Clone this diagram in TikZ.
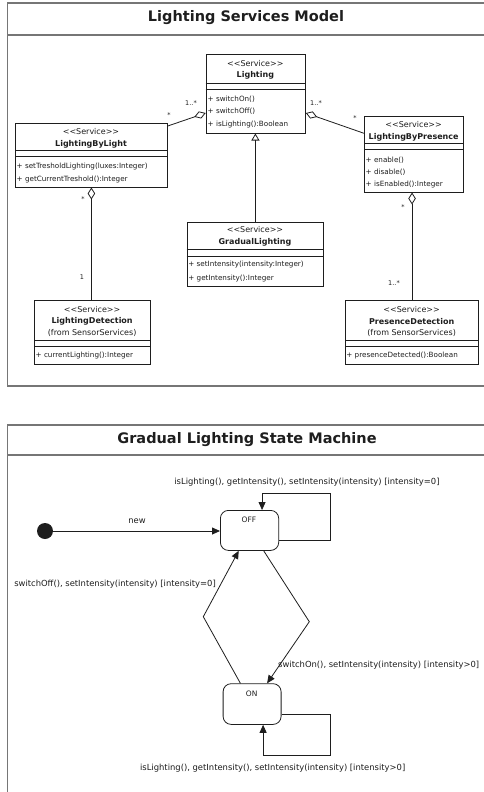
\documentclass[tikz,border=0pt]{standalone}
\usepackage{fontspec}
\setmainfont{DejaVu Sans}
\usetikzlibrary{arrows.meta,calc}
\definecolor{framegray}{RGB}{118,118,118}
\definecolor{ink}{RGB}{30,30,30}

% horizontal compartment rule inside a class box, #2 below its top edge
\newcommand\umlrule[2]{\draw[umlline] ($(#1.north west)+(0,#2)$) -- ($(#1.north east)+(0,#2)$);}

\begin{document}
\begin{tikzpicture}[x=1pt,y=-1pt,
  frame/.style={draw=framegray, line width=1.6pt},
  framehead/.style={font=\bfseries\fontsize{14.5}{17}\selectfont, text=ink, inner sep=0pt},
  umlbox/.style={draw=ink, line width=0.8pt, fill=white, inner sep=0pt, anchor=north west},
  umlline/.style={draw=ink, line width=0.8pt},
  stereo/.style={font=\fontsize{8}{9.6}\selectfont, text=ink, inner sep=0pt},
  clsname/.style={font=\bfseries\fontsize{8}{9.6}\selectfont, text=ink, inner sep=0pt},
  optext/.style={font=\fontsize{7.2}{8.6}\selectfont, text=ink, inner sep=0pt, anchor=west},
  mult/.style={font=\fontsize{6.5}{7.8}\selectfont, text=ink, inner sep=0pt},
  aggr/.style={umlline, {Diamond[open,length=12pt,width=7.5pt]}-},
  gen/.style={umlline, -{Triangle[open,length=7pt,width=8pt]}},
  state/.style={draw=ink, line width=0.8pt, rounded corners=8pt, fill=white, inner sep=0pt, anchor=north west},
  trans/.style={umlline, -{Triangle[length=8pt,width=7pt]}},
  statename/.style={font=\fontsize{7.5}{9}\selectfont, text=ink, inner sep=0pt},
  lbl/.style={font=\fontsize{8.4}{10}\selectfont, text=ink, inner sep=0pt}]

\clip (0,0) rectangle (484,792);
\fill[white] (0,0) rectangle (484,792);

% ---------- frames ----------
\draw[frame, fill=white] (7.5,3) rectangle (492,386);
\draw[frame] (7.5,35) -- (492,35);
\node[framehead] (title1) at (246,18) {Lighting Services Model};

\draw[frame, fill=white] (7.5,425) rectangle (492,800);
\draw[frame] (7.5,455) -- (492,455);
\node[framehead] (title2) at (247,440) {Gradual Lighting State Machine};

% ---------- class diagram ----------
% Lighting
\node[umlbox, minimum width=99.3pt, minimum height=78.4pt] (lighting) at (205.7,54.3) {};
\umlrule{lighting}{29}
\umlrule{lighting}{34.7}
\node[stereo] (lighting-s) at (255.35,64) {<{}<Service>{}>};
\node[clsname] (lighting-n) at (255.35,75.7) {Lighting};
\node[optext] (lighting-o1) at (207.5,99.3) {+ switchOn()};
\node[optext] (lighting-o2) at (207.5,111.7) {+ switchOff()};
\node[optext] (lighting-o3) at (207.5,124.5) {+ isLighting():Boolean};

% LightingByLight
\node[umlbox, minimum width=152pt, minimum height=64pt] (bylight) at (15,122.7) {};
\umlrule{bylight}{27.3}
\umlrule{bylight}{34}
\node[stereo] (bylight-s) at (91,131.7) {<{}<Service>{}>};
\node[clsname] (bylight-n) at (91,144.3) {LightingByLight};
\node[optext] (bylight-o1) at (16.5,166.7) {+ setTresholdLighting(luxes:Integer)};
\node[optext] (bylight-o2) at (16.5,179.3) {+ getCurrentTreshold():Integer};

% LightingByPresence
\node[umlbox, minimum width=99.3pt, minimum height=76pt] (bypres) at (364,115.7) {};
\umlrule{bypres}{27.6}
\umlrule{bypres}{33.6}
\node[stereo] (bypres-s) at (413.65,125) {<{}<Service>{}>};
\node[clsname] (bypres-n) at (413.65,137.3) {LightingByPresence};
\node[optext] (bypres-o1) at (365.5,160) {+ enable()};
\node[optext] (bypres-o2) at (365.5,172.3) {+ disable()};
\node[optext] (bypres-o3) at (365.5,185) {+ isEnabled():Integer};

% GradualLighting
\node[umlbox, minimum width=136.6pt, minimum height=64.3pt] (gradual) at (186.7,221.7) {};
\umlrule{gradual}{27.6}
\umlrule{gradual}{34.3}
\node[stereo] (gradual-s) at (255,230) {<{}<Service>{}>};
\node[clsname] (gradual-n) at (255,242.3) {GradualLighting};
\node[optext] (gradual-o1) at (188.2,265) {+ setIntensity(intensity:Integer)};
\node[optext] (gradual-o2) at (188.2,278.3) {+ getIntensity():Integer};

% LightingDetection
\node[umlbox, minimum width=115.7pt, minimum height=64pt] (lightdet) at (34.3,300) {};
\umlrule{lightdet}{40}
\umlrule{lightdet}{46.7}
\node[stereo] (lightdet-s) at (92.15,310) {<{}<Service>{}>};
\node[clsname] (lightdet-n) at (92.15,321.7) {LightingDetection};
\node[stereo] (lightdet-f) at (92.15,333.3) {(from SensorServices)};
\node[optext] (lightdet-o1) at (35.5,355.7) {+ currentLighting():Integer};

% PresenceDetection
\node[umlbox, minimum width=133.3pt, minimum height=64pt] (presdet) at (345,300) {};
\umlrule{presdet}{40}
\umlrule{presdet}{46.7}
\node[stereo] (presdet-s) at (411.65,310) {<{}<Service>{}>};
\node[clsname] (presdet-n) at (411.65,321.3) {PresenceDetection};
\node[stereo] (presdet-f) at (411.65,333.3) {(from SensorServices)};
\node[optext] (presdet-o1) at (346.2,355.7) {+ presenceDetected():Boolean};

% associations
\draw[aggr] ($(lighting.north west)+(0,58.7)$) -- ($(bylight.north east)+(0,3.3)$);
\draw[aggr] ($(lighting.north east)+(0,58.7)$) -- ($(bypres.north west)+(0,17.6)$);
\draw[aggr] (bylight.south) -- (bylight.south |- lightdet.north);
\draw[aggr] ($(bypres.south)+(-2,0)$) coordinate (bypres-b) -- (bypres-b |- presdet.north);
\draw[gen] (gradual.north) -- (gradual.north |- lighting.south);

% multiplicities
\node[mult] (m1) at (191,103) {1..*};
\node[mult] (m2) at (169,115) {*};
\node[mult] (m3) at (316,103) {1..*};
\node[mult] (m4) at (355,118) {*};
\node[mult] (m5) at (83,199) {*};
\node[mult] (m6) at (82,277) {1};
\node[mult] (m7) at (403,207) {*};
\node[mult] (m8) at (394,283) {1..*};

% ---------- state machine ----------
\node[circle, fill=ink, minimum size=16pt, inner sep=0pt] (init) at (45,531) {};
\node[state, minimum width=58.3pt, minimum height=40pt] (off) at (220,510) {};
\node[statename] (off-t) at (249,520) {OFF};
\node[state, minimum width=58pt, minimum height=40.7pt] (on) at (222.7,683.3) {};
\node[statename] (on-t) at (251.7,694) {ON};

\draw[trans] (init) -- (init -| off.west);
\node[lbl] (new-l) at (137,521) {new};

% OFF self transition
\coordinate (offloop) at (330,493.3);
\draw[trans] ($(off.east)+(0,10)$) -| (offloop) -| ($(off.north)+(12.5,0)$);
\node[lbl] (offloop-l) at (307,481.7) {isLighting(), getIntensity(), setIntensity(intensity) [intensity=0]};

% ON -> OFF
\coordinate (leftbend) at (203.3,616.7);
\draw[trans] ($(on.north)+(-11.7,0)$) -- (leftbend) -- ($(off.south)+(-10.85,0)$);
\node[lbl, anchor=east] (switchoff-l) at (216,584) {switchOff(), setIntensity(intensity) [intensity=0]};

% OFF -> ON
\coordinate (rightbend) at (309.3,621.7);
\draw[trans] ($(off.south)+(14.15,0)$) -- (rightbend) -- ($(on.north)+(15,0)$);
\node[lbl, anchor=west] (switchon-l) at (278,665) {switchOn(), setIntensity(intensity) [intensity>0]};

% ON self transition
\coordinate (onloop) at (330,755);
\draw[trans] ($(on.east)+(0,10.35)$) -| (onloop) -| ($(on.south)+(11,0)$);
\node[lbl] (onloop-l) at (272.7,768.3) {isLighting(), getIntensity(), setIntensity(intensity) [intensity>0]};

\end{tikzpicture}
\end{document}
